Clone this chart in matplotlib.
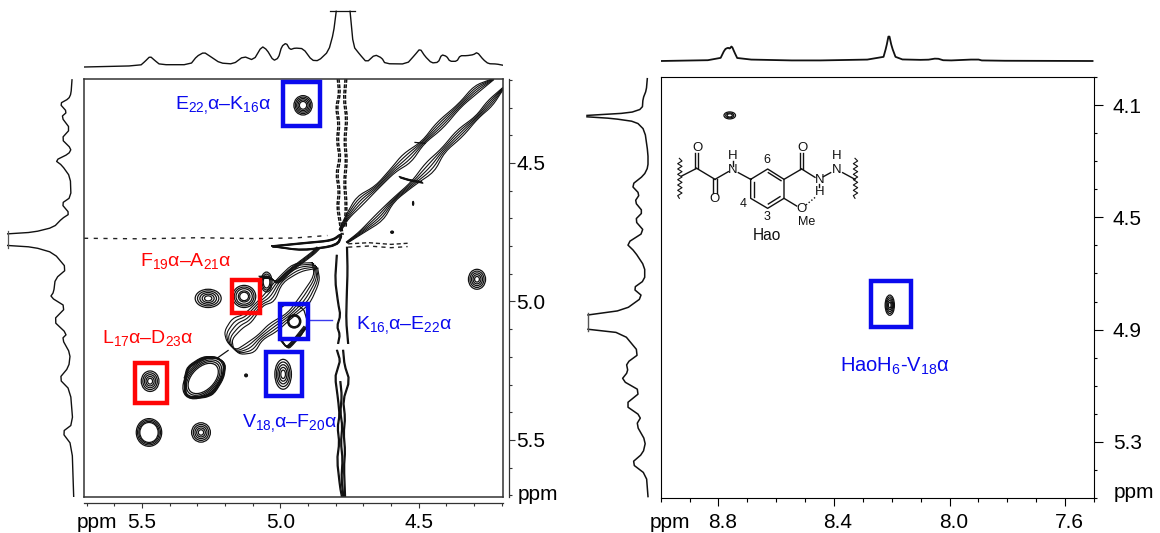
import matplotlib
matplotlib.use('Agg')
import matplotlib.pyplot as plt
from matplotlib.patches import Ellipse, Rectangle
from matplotlib.ticker import MultipleLocator
from matplotlib.transforms import ScaledTranslation

plt.rcParams['font.family'] = ['Liberation Sans', 'DejaVu Sans']
plt.rcParams['mathtext.fontset'] = 'custom'
plt.rcParams['mathtext.rm'] = 'Liberation Sans'
plt.rcParams['mathtext.default'] = 'rm'

W, H = 1160, 533

# 1D traces, ppm and height (split where the water peak is cut)
top_left_ppm_a = [5.709, 5.507, 5.489, 5.471, 5.453, 5.435, 5.326, 5.302, 5.276, 5.254, 5.218, 5.170, 5.133, 5.097,
                  5.067, 5.049, 5.025, 5.007, 4.995, 4.979, 4.965, 4.947, 4.917, 4.886, 4.862, 4.826, 4.808, 4.798]
top_left_int_a = [0, 1.3, 5.7, 10.7, 6.3, 2.3, 2.3, 10.7, 14.7, 10.7, 4, 3, 10.7, 6.7,
                  20.7, 17.3, 6.3, 9, 20.7, 24, 17.3, 19, 18.3, 6.7, 6.3, 15.7, 34, 55.7]
top_left_ppm_b = [4.748, 4.736, 4.712, 4.688, 4.658, 4.633, 4.621, 4.543, 4.513, 4.495, 4.477, 4.453, 4.429, 4.417,
                  4.399, 4.387, 4.362, 4.350, 4.326, 4.302, 4.288, 4.266, 4.248, 4.218, 4.194]
top_left_int_b = [55.7, 20.7, 12.3, 4.7, 12.3, 9, 3.3, 3, 12.3, 18.3, 10.7, 4, 4.7, 12.3,
                  10.7, 5.7, 5.7, 11.3, 11.3, 12.3, 14.7, 7.3, 3.3, 3, 1.7]
top_left_cap = [4.819, 4.730]

side_left_ppm_a = [4.200, 4.250, 4.268, 4.286, 4.316, 4.334, 4.377, 4.413, 4.449, 4.467, 4.491, 4.509, 4.551, 4.623,
                   4.647, 4.683, 4.701, 4.732, 4.750, 4.756]
side_left_int_a = [1, 2, 4.3, 13.3, 6, 11.7, 2.7, 11.7, 1.7, 4.3, 17.7, 11, 2.7, 2,
                   11.7, 3.3, 11, 19.3, 39.3, 65.3]
side_left_ppm_b = [4.798, 4.804, 4.825, 4.882, 4.918, 4.966, 4.984, 5.020,
                   5.069, 5.117, 5.135, 5.189, 5.237, 5.279, 5.321, 5.442, 5.472, 5.520, 5.706]
side_left_int_b = [65.3, 39.3, 19.3, 6, 17.7, 19.3, 22.7, 6.7,
                   20, 6, 11, 2.7, 4.3, 14, 2.7, 0, 11, 1, -0.7]
side_left_cap = [4.744, 4.808]

top_right_ppm = [9.0, 8.796, 8.778, 8.767, 8.761, 8.754, 8.744, 8.733, 8.5, 8.231, 8.219, 8.210, 8.200, 8.184,
                 8.080, 8.044, 8.017, 7.903, 7.885, 7.505]
top_right_int = [0, 1, 11.7, 13.3, 12.3, 15, 8.3, 1.7, 0.3, 1.7, 14, 27, 14, 1.7,
                 1, 2.7, 0.3, 1.7, 0.3, 0]

side_right_ppm_a = [4.005, 4.046, 4.076, 4.112, 4.127, 4.136]
side_right_int_a = [0.7, 1.7, 5, 5.7, 18.3, 61]
side_right_ppm_b = [4.141, 4.147, 4.159, 4.189, 4.272, 4.320, 4.349, 4.385, 4.417,
                    4.444, 4.480, 4.510, 4.551, 4.593, 4.622, 4.676, 4.723, 4.753, 4.783, 4.830, 4.848]
side_right_int_b = [61, 35, 11.7, 3.3, 0, 0, 4, 16.7, 8.3,
                    13.3, 5, 13.3, 3.3, 21.7, 13.3, 3.3, 3.3, 15, 5, 23.3, 60]
side_right_ppm_c = [4.899, 4.913, 4.985, 5.020, 5.050, 5.080, 5.121, 5.169, 5.210, 5.240, 5.299, 5.341, 5.377, 5.418, 5.496]
side_right_int_c = [60, 25, 8.3, 21.7, 20, 26.7, 6.7, 23.3, 6.7, 11.7, 2.3, 5, 16.7, 1.7, 0]
side_right_cap = [4.840, 4.905]

# cross peaks: x ppm, y ppm, half width, half height, angle, ring set
hollow = [0.94, 0.86, 0.78, 0.70]
solid = [1.0, 0.82, 0.64, 0.46, 0.28]
small = [1.0, 0.6]
left_peaks = [
    (4.918, 4.292, 0.033, 0.035, 0, [1.0, 0.85, 0.7, 0.55, 0.4]),
    (4.289, 4.920, 0.031, 0.036, 0, solid),
    (5.261, 4.989, 0.047, 0.033, 0, solid),
    (5.131, 4.982, 0.042, 0.040, 0, [1.0, 0.85, 0.7, 0.5, 0.38]),
    (4.950, 5.072, 0.024, 0.024, 0, [1.0, 0.92, 0.8]),
    (5.471, 5.288, 0.032, 0.037, 0, solid),
    (4.990, 5.263, 0.030, 0.054, 0, solid),
    (5.287, 5.473, 0.034, 0.035, 0, solid),
    (5.475, 5.473, 0.046, 0.050, 0, [1.0, 0.9, 0.8, 0.72]),
    (5.279, 5.278, 0.094, 0.058, 45, hollow),
    (5.124, 5.267, 0.005, 0.005, 0, small),
    (4.520, 4.646, 0.002, 0.007, 0, small),
    (4.596, 4.750, 0.005, 0.004, 0, small),
    (5.05, 4.93, 0.020, 0.036, 0, [1.0, 0.8, 0.6]),
]
right_peaks = [
    (8.761, 4.136, 0.020, 0.0125, 0, [1.0, 0.7, 0.45]),
    (8.207, 4.813, 0.016, 0.036, 0, solid),
]

upper_ridge_x = [4.231, 4.289, 4.351, 4.423, 4.484, 4.542, 4.593, 4.651, 4.712, 4.759, 4.784]
upper_ridge_y = [4.198, 4.231, 4.292, 4.364, 4.426, 4.483, 4.527, 4.588, 4.635, 4.696, 4.743]
upper_ridge_w = [0.002, 0.010, 0.005, 0.011, 0.004, 0.015, 0.007, 0.005, 0.013, 0.005, 0.003]
lower_ridge_x = [4.195, 4.242, 4.289, 4.351, 4.412, 4.459, 4.520, 4.593, 4.640, 4.712, 4.759]
lower_ridge_y = [4.231, 4.285, 4.335, 4.393, 4.455, 4.516, 4.574, 4.635, 4.696, 4.754, 4.787]
lower_ridge_w = [0.002, 0.009, 0.004, 0.011, 0.006, 0.016, 0.006, 0.004, 0.012, 0.004, 0.002]
lens_x = [4.875, 4.940, 5.001, 5.037, 5.073, 5.117, 5.156, 5.189, 5.182, 5.153, 5.109, 5.073, 5.026, 4.965, 4.911, 4.867, 4.875]
lens_y = [4.870, 4.877, 4.924, 4.985, 5.007, 5.061, 5.079, 5.122, 5.158, 5.184, 5.169, 5.130, 5.094, 5.050, 4.996, 4.917, 4.870]
lens_w = [0.010, 0.014, 0.008, 0.016, 0.008, 0.014, 0.018, 0.014, 0.012, 0.008, 0.016, 0.008, 0.014, 0.008, 0.016, 0.010, 0.010]
blob_outline_x = [5.344, 5.334, 5.279, 5.229, 5.200, 5.207, 5.243, 5.279, 5.344, 5.344]
blob_outline_y = [5.278, 5.238, 5.202, 5.202, 5.223, 5.274, 5.332, 5.346, 5.346, 5.278]
strand_b_x = [5.073, 5.037, 5.012, 4.965, 4.882, 4.864]
strand_b_y = [4.913, 4.913, 4.935, 4.888, 4.826, 4.808]
strand_c_x = [5.001, 4.976, 4.954, 4.911]
strand_c_y = [5.133, 5.169, 5.148, 5.094]
k16_outline_x = [5.001, 4.976, 4.918, 4.900, 4.929, 4.976, 5.008, 5.001]
k16_outline_y = [5.025, 5.007, 5.021, 5.079, 5.130, 5.169, 5.130, 5.025]
bridge_x = [4.567, 4.531, 4.488]
bridge_y = [4.552, 4.563, 4.570]
spur_x = [4.513, 4.477]
spur_y = [4.426, 4.429]
link_x = [5.229, 5.189]
link_y = [5.205, 5.177]
wedge_x = [5.029, 4.920, 4.812, 4.776, 4.794, 4.920, 5.029]
wedge_y = [4.801, 4.790, 4.780, 4.754, 4.798, 4.816, 4.801]

# t1 noise stripe at the water line
stripe_a_x = [4.791, 4.786, 4.797, 4.788, 4.794, 4.784, 4.796, 4.787, 4.793, 4.783, 4.776]
stripe_a_y = [4.197, 4.250, 4.300, 4.360, 4.420, 4.480, 4.540, 4.600, 4.660, 4.720, 4.760]
stripe_b_x = [4.763, 4.769, 4.760, 4.767, 4.761, 4.768, 4.762, 4.765]
stripe_b_y = [4.197, 4.270, 4.340, 4.420, 4.490, 4.570, 4.650, 4.730]
stripe_c_x = [4.759, 4.757, 4.760, 4.762, 4.755]
stripe_c_y = [4.805, 4.890, 4.980, 5.070, 5.151]
stripe_d_x = [4.796, 4.802, 4.791, 4.783, 4.795, 4.785, 4.791]
stripe_d_y = [4.834, 4.924, 5.007, 5.050, 5.090, 5.120, 5.151]
stripe_e_x = [4.795, 4.784, 4.792, 4.802, 4.791, 4.786, 4.793, 4.787, 4.795, 4.784, 4.777]
stripe_e_y = [5.177, 5.213, 5.240, 5.274, 5.357, 5.410, 5.455, 5.510, 5.574, 5.671, 5.707]
stripe_f_x = [4.773, 4.768, 4.750, 4.773, 4.766, 4.771, 4.766, 4.770, 4.766]
stripe_f_y = [5.177, 5.230, 5.285, 5.357, 5.420, 5.476, 5.540, 5.599, 5.707]
stripe_g_x = [4.783, 4.778, 4.783, 4.776, 4.781, 4.775, 4.779, 4.772]
stripe_g_y = [5.290, 5.340, 5.400, 5.450, 5.510, 5.570, 5.640, 5.707]
streak_a_x = [5.71, 5.5, 5.3, 5.1, 4.95, 4.83]
streak_a_y = [4.772, 4.774, 4.770, 4.773, 4.771, 4.762]
streak_b_x = [4.755, 4.68, 4.60, 4.54]
streak_b_y = [4.792, 4.788, 4.794, 4.790]

# boxes: x0, x1, y0, y1 in ppm, colour
blue = '#0a0aee'
red = '#ff0505'
left_boxes = [
    (4.990, 4.858, 4.209, 4.368, blue),
    (5.176, 5.075, 4.924, 5.043, red),
    (5.001, 4.900, 5.010, 5.137, blue),
    (5.525, 5.409, 5.223, 5.366, red),
    (5.053, 4.922, 5.182, 5.343, blue),
]
right_boxes = [(8.273, 8.135, 4.727, 4.891, blue)]

left_labels = [
    ("E$_{22{,}}$α–K$_{16}$α", 5.380, 4.306, blue),
    ("F$_{19}$α–A$_{21}$α", 5.507, 4.873, red),
    ("L$_{17}$α–D$_{23}$α", 5.644, 5.151, red),
    ("V$_{18{,}}$α–F$_{20}$α", 5.138, 5.455, blue),
    ("K$_{16{,}}$α–E$_{22}$α", 4.726, 5.101, blue),
]

left_ticks_x = [5.5, 5.0, 4.5]
left_ticks_y = [4.5, 5.0, 5.5]
right_ticks_x = [8.8, 8.4, 8.0, 7.6]
right_ticks_y = [4.1, 4.5, 4.9, 5.3]

# Hao structure, in its own little frame
ring_x = [512, 563, 612, 612, 563, 512, 512]
ring_y = [478, 447, 478, 535, 565, 535, 478]
bonds = [
    ((305, 350), (468, 445)), ((350, 405), (445, 478)), ((345, 345), (445, 400)), ((355, 355), (445, 400)),
    ((405, 445), (478, 455)), ((400, 400), (478, 520)), ((410, 410), (478, 520)), ((458, 458), (437, 422)),
    ((475, 512), (458, 478)), ((612, 665), (478, 447)), ((660, 660), (447, 400)), ((670, 670), (447, 400)),
    ((665, 705), (447, 472)), ((730, 752), (470, 458)), ((788, 825), (458, 478)), ((718, 718), (493, 500)),
    ((612, 650), (535, 558)), ((565, 603), (458, 482)), ((600, 565), (530, 552)), ((523, 523), (485, 530)),
]
wave_left_x = [298, 306, 293, 306, 293, 306, 293, 306, 293, 306, 293, 306, 293, 306, 293, 298]
wave_y = [415, 423, 431, 439, 447, 455, 463, 471, 479, 487, 495, 503, 511, 519, 527, 535]
wave_right_x = [825, 833, 820, 833, 820, 833, 820, 833, 820, 833, 820, 833, 820, 833, 820, 825]
hbond_x = [678, 708]
hbond_y = [555, 530]
atoms = [("O", 352, 385, 9.5), ("O", 403, 537, 9.5), ("N", 458, 450, 9.5), ("H", 458, 408, 9.5), ("O", 667, 385, 9.5),
         ("N", 718, 480, 9.5), ("H", 720, 515, 9.5), ("N", 770, 450, 9.5), ("H", 770, 408, 9.5), ("O", 665, 568, 9.5),
         ("Me", 680, 605, 9), ("6", 560, 420, 9), ("4", 490, 552, 9), ("3", 562, 592, 9), ("Hao", 562, 645, 11.2)]


def px_axes(x0, y0, x1, y1):
    return fig.add_axes([x0 / W, 1 - y1 / H, (x1 - x0) / W, (y1 - y0) / H])


# corner cutting, only so the read points do not draw as straight spikes
def smooth(xs, ys, n=1):
    for _ in range(n):
        nx, ny = [xs[0]], [ys[0]]
        for i in range(len(xs) - 1):
            nx += [0.8 * xs[i] + 0.2 * xs[i + 1], 0.2 * xs[i] + 0.8 * xs[i + 1]]
            ny += [0.8 * ys[i] + 0.2 * ys[i + 1], 0.2 * ys[i] + 0.8 * ys[i + 1]]
        nx.append(xs[-1])
        ny.append(ys[-1])
        xs, ys = nx, ny
    return xs, ys


def trace(ax, xs, ys, lw=1.0, n=1):
    sx, sy = smooth(xs, ys, n)
    ax.plot(sx, sy, color='#111111', lw=lw)


def draw_peaks(ax, peaks):
    for x, y, rx, ry, ang, rings in peaks:
        for s in rings:
            ax.add_patch(Ellipse((x, y), 2 * rx * s, 2 * ry * s, angle=ang, fill=False, ec='#111111', lw=0.9))


def draw_boxes(ax, boxes):
    for x0, x1, y0, y1, c in boxes:
        ax.add_patch(Rectangle((x0, y0), x1 - x0, y1 - y0, fill=False, ec=c, lw=3.2, zorder=5, joinstyle='miter'))


def bundle(ax, xs, ys, widths, lw=0.8):
    for f in [-1, -0.5, 0, 0.5, 1]:
        trace(ax, [v - f * w for v, w in zip(xs, widths)], [v + f * w for v, w in zip(ys, widths)], lw, 2)


fig = plt.figure(figsize=(W / 100, H / 100), dpi=100)

# left spectrum
ax1 = px_axes(84, 79, 503, 497)
ax1.set_xlim(5.71, 4.195)
ax1.set_ylim(5.706, 4.197)
ax1.set_xticks([])
ax1.set_yticks([])
for s in ax1.spines.values():
    s.set_color('#333333')
    s.set_linewidth(1.1)

draw_peaks(ax1, left_peaks)
bundle(ax1, upper_ridge_x, upper_ridge_y, upper_ridge_w)
bundle(ax1, lower_ridge_x, lower_ridge_y, lower_ridge_w)
bundle(ax1, lens_x, lens_y, lens_w)
bundle(ax1, strand_b_x, strand_b_y, [0.004] * len(strand_b_x))
bundle(ax1, strand_c_x, strand_c_y, [0.004] * len(strand_c_x))
bundle(ax1, bridge_x, bridge_y, [0.003] * len(bridge_x))
bundle(ax1, blob_outline_x, blob_outline_y, [0.003] * len(blob_outline_x))
trace(ax1, k16_outline_x, k16_outline_y, 0.9)
trace(ax1, spur_x, spur_y, 0.9)
trace(ax1, link_x, link_y, 0.9)
bundle(ax1, wedge_x, wedge_y, [0.002] * len(wedge_x))

for xs, ys in [(stripe_a_x, stripe_a_y), (stripe_b_x, stripe_b_y)]:
    for d in [-0.003, 0.003]:
        sx, sy = smooth([v + d for v in xs], ys)
        ax1.plot(sx, sy, color='#111111', lw=1.1, ls=(0, (2.5, 1)))
for xs, ys in [(stripe_c_x, stripe_c_y), (stripe_d_x, stripe_d_y), (stripe_e_x, stripe_e_y), (stripe_f_x, stripe_f_y),
               (stripe_g_x, stripe_g_y)]:
    for d in [-0.0015, 0.0015]:
        trace(ax1, [v + d for v in xs], ys, 1.0)
ax1.plot(streak_a_x, streak_a_y, color='#222222', lw=1.0, ls=(0, (3, 4)))
ax1.plot(streak_b_x, streak_b_y, color='#222222', lw=1.0, ls=(0, (3, 2)))
ax1.plot(streak_b_x, [v + 0.012 for v in streak_b_y], color='#222222', lw=1.0, ls=(0, (3, 3)))

draw_boxes(ax1, left_boxes)
ax1.plot([4.893, 4.813], [5.068, 5.068], color='#3a3aee', lw=1)
for t, x, y, c in left_labels:
    ax1.text(x, y, t, color=c, fontsize=14, ha='left', va='baseline')

sx1 = ax1.secondary_xaxis(-6 / 418)
sx1.set_xticks(left_ticks_x)
sx1.xaxis.set_minor_locator(MultipleLocator(0.1))
sx1.tick_params(which='major', length=3.5, width=0.8, pad=4, labelsize=15, color='#333333')
sx1.tick_params(which='minor', length=2.5, width=0.8, color='#333333')
sy1 = ax1.secondary_yaxis(1 + 6 / 419)
sy1.set_yticks(left_ticks_y)
sy1.yaxis.set_minor_locator(MultipleLocator(0.1))
sy1.tick_params(which='major', length=4.5, width=0.8, pad=1, labelsize=15, color='#333333')
sy1.tick_params(which='minor', length=2.5, width=0.8, color='#333333')
for a in (sx1, sy1):
    for s in a.spines.values():
        s.set_color('#333333')
        s.set_linewidth(0.9)
fig.text(97 / W, 1 - 522 / H, 'ppm', fontsize=15, ha='center', va='center')
fig.text(538 / W, 1 - 494 / H, 'ppm', fontsize=15, ha='center', va='center')

a_top = px_axes(84, 0, 503, 72)
a_top.set_xlim(5.71, 4.195)
a_top.set_ylim(-5, 67)
a_top.axis('off')
trace(a_top, top_left_ppm_a, top_left_int_a)
trace(a_top, top_left_ppm_b, top_left_int_b)
a_top.plot(top_left_cap, [55.7, 55.7], color='#111111', lw=0.9)

a_side = px_axes(0, 79, 80, 497)
a_side.set_ylim(5.706, 4.197)
a_side.set_xlim(73, -7)
a_side.axis('off')
trace(a_side, side_left_int_a, side_left_ppm_a)
trace(a_side, side_left_int_b, side_left_ppm_b)
a_side.plot([65.3, 65.3], side_left_cap, color='#555555', lw=0.9)

# right spectrum
ax2 = px_axes(660.7, 77.3, 1094, 497.7)
ax2.set_xlim(9.0, 7.5)
ax2.set_ylim(5.5, 4.0)
ax2.set_xticks(right_ticks_x)
ax2.set_yticks(right_ticks_y)
ax2.xaxis.set_minor_locator(MultipleLocator(0.1))
ax2.yaxis.set_minor_locator(MultipleLocator(0.1))
ax2.yaxis.tick_right()
ax2.tick_params(which='major', axis='x', length=6, width=0.8, pad=5, labelsize=15)
ax2.tick_params(which='minor', axis='x', length=3, width=0.8)
ax2.tick_params(which='major', axis='y', length=6.5, width=0.8, pad=7, labelsize=15)
ax2.tick_params(which='minor', axis='y', length=2.5, width=0.8)
# the printed labels sit a little right of their ticks
for lab in ax2.get_xticklabels():
    lab.set_transform(lab.get_transform() + ScaledTranslation(4 / 100, 0, fig.dpi_scale_trans))
draw_peaks(ax2, right_peaks)
draw_boxes(ax2, right_boxes)
ax2.text(8.19, 5.05, "HaoH$_{6}$-V$_{18}$α", color=blue, fontsize=14.5, ha='center', va='baseline')
fig.text(670 / W, 1 - 522 / H, 'ppm', fontsize=15, ha='center', va='center')
fig.text(1134 / W, 1 - 492 / H, 'ppm', fontsize=15, ha='center', va='center')

b_top = px_axes(660.7, 0, 1094, 72)
b_top.set_xlim(9.0, 7.5)
b_top.set_ylim(-11, 61)
b_top.axis('off')
trace(b_top, top_right_ppm, top_right_int, 1.3)

b_side = px_axes(580, 77.3, 660, 497.7)
b_side.set_ylim(5.5, 4.0)
b_side.set_xlim(68, -12)
b_side.axis('off')
trace(b_side, side_right_int_a, side_right_ppm_a, 1.1)
trace(b_side, side_right_int_b, side_right_ppm_b, 1.1)
trace(b_side, side_right_int_c, side_right_ppm_c, 1.1)
b_side.plot([60, 60], side_right_cap, color='#555555', lw=1.0)

# structure drawn on top of the right panel
c = px_axes(670, 130, 870, 250)
c.set_xlim(270, 870)
c.set_ylim(690, 330)
c.axis('off')
c.plot(ring_x, ring_y, color='#111111', lw=1.0)
for xs, ys in bonds:
    c.plot(xs, ys, color='#111111', lw=1.0)
c.plot(wave_left_x, wave_y, color='#111111', lw=0.8)
c.plot(wave_right_x, wave_y, color='#111111', lw=0.8)
c.plot(hbond_x, hbond_y, color='#111111', lw=1.0, ls=(0, (1, 1.5)))
for t, x, y, fs in atoms:
    c.text(x, y, t, fontsize=fs, ha='center', va='center', color='#111111')

fig.savefig('out.png', dpi=100)
